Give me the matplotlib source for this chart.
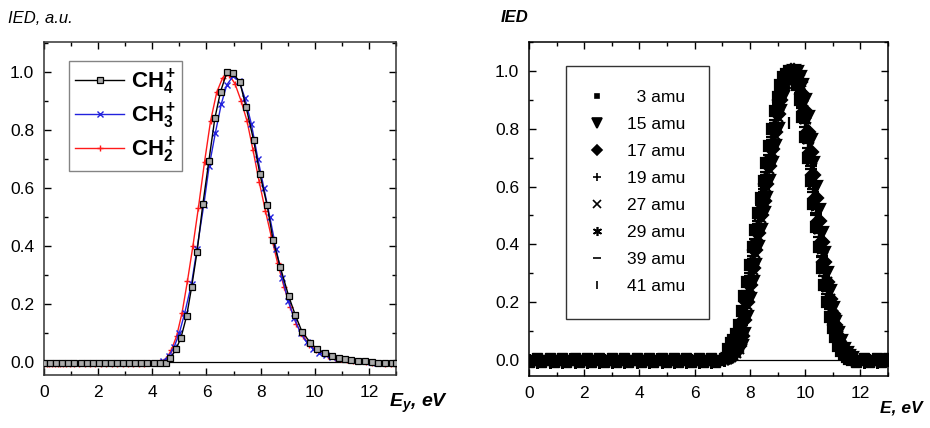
import matplotlib.pyplot as plt
from matplotlib.ticker import MultipleLocator

plt.rcParams['font.family'] = ['Liberation Sans', 'DejaVu Sans']
plt.rcParams['mathtext.fontset'] = 'custom'
plt.rcParams['mathtext.rm'] = 'Liberation Sans'
plt.rcParams['mathtext.it'] = 'Liberation Sans:italic'
plt.rcParams['mathtext.bf'] = 'Liberation Sans:bold'
plt.rcParams['mathtext.bfit'] = 'Liberation Sans:bold:italic'

# ---- left panel: CH4+, CH3+, CH2+ ----
ch4_e = [0.0, 0.22, 0.45, 0.67, 0.9, 1.12, 1.35, 1.57, 1.8, 2.02, 2.25, 2.47, 2.7, 2.92, 3.15, 3.37,
         3.6, 3.82, 4.05, 4.27, 4.5, 4.67, 4.88, 5.06, 5.27, 5.45, 5.65, 5.87, 6.09, 6.31, 6.52, 6.76,
         6.98, 7.23, 7.46, 7.74, 7.97, 8.24, 8.46, 8.73, 9.04, 9.28, 9.53, 9.84, 10.08, 10.39, 10.62,
         10.88, 11.1, 11.35, 11.6, 11.85, 12.1, 12.35, 12.6, 12.85, 13.0]
ch4_i = [-0.005, -0.005, -0.005, -0.005, -0.005, -0.005, -0.005, -0.005, -0.005, -0.005, -0.005, -0.005,
         -0.005, -0.005, -0.005, -0.005, -0.005, -0.005, -0.005, -0.004, -0.002, 0.012, 0.045, 0.084,
         0.159, 0.257, 0.378, 0.546, 0.694, 0.84, 0.932, 1.0, 0.995, 0.966, 0.88, 0.765, 0.649, 0.541,
         0.42, 0.326, 0.226, 0.162, 0.104, 0.066, 0.044, 0.031, 0.022, 0.015, 0.01, 0.006, 0.004, 0.002,
         0.0, -0.002, -0.003, -0.003, -0.003]

ch3_e = [0.0, 0.2, 0.4, 0.6, 0.8, 1.0, 1.2, 1.4, 1.6, 1.8, 2.0, 2.2, 2.4, 2.6, 2.8, 3.0, 3.2, 3.4, 3.6,
         3.8, 4.0, 4.2, 4.4, 4.6, 4.8, 5.0, 5.2, 5.45, 5.65, 5.9, 6.1, 6.33, 6.55, 6.75, 6.98, 7.2, 7.42,
         7.66, 7.9, 8.12, 8.34, 8.57, 8.8, 9.02, 9.24, 9.48, 9.7, 9.94, 10.16, 10.4, 10.62, 10.86, 11.1,
         11.34, 11.58, 11.82, 12.06, 12.3, 12.54, 12.78, 13.0]
ch3_i = [-0.005, -0.005, -0.005, -0.005, -0.005, -0.005, -0.005, -0.005, -0.005, -0.005, -0.005, -0.005,
         -0.005, -0.005, -0.005, -0.005, -0.005, -0.005, -0.005, -0.005, -0.004, -0.002, 0.004, 0.02,
         0.05, 0.1, 0.17, 0.27, 0.39, 0.54, 0.675, 0.79, 0.89, 0.955, 0.985, 0.97, 0.91, 0.82, 0.7, 0.6,
         0.5, 0.39, 0.29, 0.21, 0.15, 0.1, 0.068, 0.045, 0.032, 0.024, 0.018, 0.013, 0.009, 0.006, 0.004,
         0.002, 0.0, -0.002, -0.003, -0.003, -0.003]

ch2_e = [0.0, 0.1, 0.2, 0.3, 0.4, 0.5, 0.6, 0.7, 0.8, 0.95, 1.1, 1.3, 1.5, 1.7, 1.9, 2.1, 2.3, 2.5,
         2.7, 2.9, 3.1, 3.3, 3.5, 3.7, 3.9, 4.1, 4.3, 4.5, 4.7, 4.9, 5.1, 5.3, 5.5, 5.7, 5.93, 6.15,
         6.38, 6.6, 6.83, 7.05, 7.28, 7.5, 7.72, 7.95, 8.18, 8.4, 8.63, 8.86, 9.1, 9.32, 9.56, 9.8,
         10.03, 10.26, 10.5, 10.73, 10.96, 11.2, 11.43, 11.66, 11.9, 12.13, 12.36, 12.6, 12.83, 13.0]
ch2_i = [-0.007, -0.007, -0.007, -0.007, -0.007, -0.007, -0.007, -0.007, -0.007, -0.007, -0.007, -0.007,
         -0.007, -0.007, -0.007, -0.007, -0.007, -0.007, -0.007, -0.007, -0.007, -0.007, -0.007, -0.006,
         -0.005, -0.003, 0.0, 0.01, 0.04, 0.09, 0.17, 0.28, 0.4, 0.53, 0.69, 0.83, 0.93, 0.98, 0.99, 0.96,
         0.9, 0.83, 0.73, 0.62, 0.52, 0.43, 0.34, 0.26, 0.19, 0.13, 0.09, 0.06, 0.042, 0.03, 0.021, 0.015,
         0.01, 0.007, 0.004, 0.002, 0.0, -0.003, -0.005, -0.006, -0.006, -0.006]

# ---- right panel: masses ----
e_base = [0.0, 0.15, 0.3, 0.45, 0.6, 0.75, 0.9, 1.05, 1.2, 1.35, 1.5, 1.65, 1.8, 1.95, 2.1, 2.25, 2.4,
          2.55, 2.7, 2.85, 3.0, 3.15, 3.3, 3.45, 3.6, 3.75, 3.9, 4.05, 4.2, 4.35, 4.5, 4.65, 4.8, 4.95,
          5.1, 5.25, 5.4, 5.55, 5.7, 5.85, 6.0, 6.15, 6.3, 6.45, 6.6, 6.75, 6.9, 7.05,
          11.85, 12.0, 12.15, 12.3, 12.45, 12.6, 12.75, 12.9, 13.0]
i_base_a = [0.0, 0.005, -0.005, 0.0, 0.005, -0.005, 0.0, 0.005, -0.005, 0.0, 0.005, -0.005, 0.0, 0.005,
            -0.005, 0.0, 0.005, -0.005, 0.0, 0.005, -0.005, 0.0, 0.005, -0.005, 0.0, 0.005, -0.005, 0.0,
            0.005, -0.005, 0.0, 0.005, -0.005, 0.0, 0.005, -0.005, 0.0, 0.005, -0.005, 0.0, 0.005, -0.005,
            0.0, 0.005, -0.005, 0.0, 0.005, 0.0, 0.0, 0.005, -0.005, 0.0, 0.005, -0.005, 0.0, 0.005, 0.0]
i_base_b = [-0.006, 0.002, 0.006, -0.006, 0.002, 0.006, -0.006, 0.002, 0.006, -0.006, 0.002, 0.006,
            -0.006, 0.002, 0.006, -0.006, 0.002, 0.006, -0.006, 0.002, 0.006, -0.006, 0.002, 0.006,
            -0.006, 0.002, 0.006, -0.006, 0.002, 0.006, -0.006, 0.002, 0.006, -0.006, 0.002, 0.006,
            -0.006, 0.002, 0.006, -0.006, 0.002, 0.006, -0.006, 0.002, 0.006, -0.006, 0.002, 0.006,
            -0.006, 0.002, 0.006, -0.006, 0.002, 0.006, -0.006, 0.002, 0.006]

e_peak = [7.2, 7.3, 7.4, 7.5, 7.6, 7.7, 7.8, 7.9, 8.0, 8.1, 8.2, 8.3, 8.4, 8.5, 8.6, 8.7, 8.8, 8.9,
          9.0, 9.1, 9.2, 9.3, 9.4, 9.5, 9.6, 9.7, 9.8, 9.9, 10.0, 10.1, 10.2, 10.3, 10.4, 10.5, 10.6,
          10.7, 10.8, 10.9, 11.0, 11.1, 11.2, 11.3, 11.4, 11.5, 11.6, 11.7]

amu3 = [0.04, 0.06, 0.07, 0.09, 0.12, 0.17, 0.22, 0.27, 0.33, 0.39, 0.45, 0.51, 0.56, 0.62, 0.68, 0.74,
        0.80, 0.86, 0.91, 0.95, 0.98, 0.99, 1.0, 1.0, 0.98, 0.95, 0.90, 0.84, 0.77, 0.70, 0.62, 0.54,
        0.46, 0.39, 0.32, 0.26, 0.20, 0.15, 0.11, 0.08, 0.05, 0.03, 0.02, 0.01, 0.005, 0.0]
amu15 = [0.005, 0.008, 0.012, 0.02, 0.03, 0.05, 0.09, 0.15, 0.21, 0.27, 0.33, 0.39, 0.45, 0.51, 0.56,
         0.62, 0.68, 0.74, 0.80, 0.86, 0.91, 0.95, 0.98, 0.99, 1.0, 0.995, 0.98, 0.95, 0.90, 0.84, 0.76,
         0.68, 0.60, 0.52, 0.44, 0.37, 0.30, 0.24, 0.18, 0.13, 0.095, 0.065, 0.04, 0.025, 0.015, 0.008]
amu17 = [0.01, 0.015, 0.02, 0.03, 0.05, 0.085, 0.14, 0.2, 0.26, 0.32, 0.38, 0.44, 0.5, 0.55, 0.61,
         0.67, 0.73, 0.79, 0.85, 0.9, 0.94, 0.975, 0.99, 1.0, 1.0, 0.985, 0.96, 0.92, 0.86, 0.79, 0.72,
         0.64, 0.56, 0.48, 0.41, 0.34, 0.27, 0.21, 0.16, 0.12, 0.085, 0.055, 0.035, 0.02, 0.01, 0.005]
amu19 = [0.012, 0.02, 0.025, 0.04, 0.07, 0.12, 0.18, 0.24, 0.30, 0.36, 0.42, 0.48, 0.535, 0.59, 0.65,
         0.71, 0.77, 0.83, 0.885, 0.93, 0.965, 0.985, 0.995, 1.0, 0.99, 0.965, 0.925, 0.87, 0.805, 0.735,
         0.66, 0.58, 0.50, 0.425, 0.355, 0.29, 0.23, 0.175, 0.13, 0.095, 0.065, 0.04, 0.025, 0.015, 0.008,
         0.003]
amu27 = [0.008, 0.012, 0.018, 0.025, 0.04, 0.07, 0.12, 0.19, 0.25, 0.31, 0.37, 0.43, 0.49, 0.545, 0.6,
         0.66, 0.72, 0.78, 0.84, 0.895, 0.94, 0.97, 0.99, 1.0, 1.0, 0.985, 0.955, 0.91, 0.85, 0.78,
         0.71, 0.63, 0.55, 0.47, 0.40, 0.33, 0.27, 0.21, 0.155, 0.115, 0.082, 0.052, 0.032, 0.02, 0.01,
         0.005]
amu29 = [0.015, 0.02, 0.03, 0.045, 0.07, 0.1, 0.16, 0.22, 0.28, 0.34, 0.40, 0.46, 0.52, 0.57, 0.63,
         0.69, 0.75, 0.81, 0.87, 0.92, 0.955, 0.985, 0.995, 1.0, 0.995, 0.975, 0.94, 0.89, 0.83, 0.76,
         0.69, 0.61, 0.53, 0.45, 0.38, 0.31, 0.25, 0.19, 0.14, 0.1, 0.07, 0.045, 0.028, 0.018, 0.01, 0.005]
amu39 = [0.02, 0.04, 0.05, 0.06, 0.08, 0.11, 0.16, 0.23, 0.29, 0.35, 0.41, 0.47, 0.52, 0.58, 0.64,
         0.70, 0.76, 0.82, 0.875, 0.92, 0.96, 0.98, 0.99, 1.0, 0.99, 0.97, 0.935, 0.88, 0.82, 0.75,
         0.67, 0.59, 0.51, 0.44, 0.36, 0.30, 0.24, 0.18, 0.14, 0.1, 0.07, 0.045, 0.03, 0.018, 0.01, 0.004]
amu41 = [0.03, 0.05, 0.06, 0.08, 0.1, 0.13, 0.18, 0.25, 0.31, 0.37, 0.5, 0.48, 0.6, 0.56, 0.62,
         0.68, 0.74, 0.80, 0.86, 0.9, 0.94, 0.97, 0.82, 0.99, 0.98, 0.96, 0.93, 0.87, 0.81, 0.74,
         0.66, 0.58, 0.50, 0.43, 0.36, 0.29, 0.23, 0.18, 0.13, 0.095, 0.065, 0.042, 0.026, 0.016, 0.008,
         0.003]

mass_labels = ['\u20073 amu', '15 amu', '17 amu', '19 amu', '27 amu', '29 amu', '39 amu', '41 amu']
mass_series = [amu3, amu15, amu17, amu19, amu27, amu29, amu39, amu41]
mass_markers = ['s', 'v', 'D', '+', 'x', (6, 2, 0), '_', '|']
mass_sizes = [7, 9, 7.5, 8.5, 7.5, 9, 8.5, 8.5]
legend_sizes = [3.5, 7, 5.5, 6, 5.5, 6.5, 6, 6]


fig = plt.figure(figsize=(9.3, 4.28), dpi=100)
ax1 = fig.add_axes([0.0473, 0.1238, 0.3785, 0.778])
ax2 = fig.add_axes([0.5688, 0.1215, 0.386, 0.7804])

ax1.axhline(0, color='black', lw=0.9, zorder=1)
ax1.plot(ch2_e, ch2_i, color='#ff1a1a', lw=1.0, marker='+', ms=5, mew=1.0, label=r'$\mathbf{CH_2^+}$', zorder=2)
ax1.plot(ch3_e, ch3_i, color='#2222dd', lw=1.0, marker='x', ms=4, mew=1.0, label=r'$\mathbf{CH_3^+}$', zorder=3)
ax1.plot(ch4_e, ch4_i, color='black', lw=1.0, marker='s', ms=5, mfc='#aaaaaa', mec='black', mew=0.9,
         label=r'$\mathbf{CH_4^+}$', zorder=4)
h, l = ax1.get_legend_handles_labels()
leg1 = ax1.legend(h[::-1], l[::-1], loc='upper left', bbox_to_anchor=(0.071, 0.943), borderaxespad=0,
                  fontsize=16, handlelength=2.2, handletextpad=0.3, labelspacing=0.22, borderpad=0.28,
                  fancybox=False, frameon=True)
leg1.get_frame().set_edgecolor('#666666')
leg1.get_frame().set_linewidth(1.0)

ax2.axhline(0, color='black', lw=0.9, zorder=1)
for ys, mk, sz, lab in zip(mass_series, mass_markers, mass_sizes, mass_labels):
    ax2.plot(e_peak, ys, ls='none', marker=mk, ms=sz, color='black', mew=1.6, label=lab)
ax2.plot(e_base, i_base_a, ls='none', marker=(6, 2, 0), ms=9, color='black', mew=2)
ax2.plot(e_base, i_base_b, ls='none', marker='s', ms=6.5, color='black')
leg2 = ax2.legend(loc='upper left', bbox_to_anchor=(0.103, 0.928), borderaxespad=0, fontsize=12.5,
                  handlelength=0.8, handletextpad=1.3, labelspacing=0.68, borderpad=1.4,
                  fancybox=False, frameon=True)
for hd, sz in zip(leg2.legend_handles, legend_sizes):
    hd.set_markersize(sz)
    hd.set_markeredgewidth(1.2)
leg2.get_frame().set_edgecolor('black')
leg2.get_frame().set_linewidth(1.0)

for ax in (ax1, ax2):
    ax.set_xlim(0, 13)
    ax.xaxis.set_major_locator(MultipleLocator(2))
    ax.xaxis.set_minor_locator(MultipleLocator(1))
    ax.yaxis.set_major_locator(MultipleLocator(0.2))
    ax.yaxis.set_minor_locator(MultipleLocator(0.1))
    ax.tick_params(which='both', direction='in', top=True, right=True, labelsize=12.5)
    ax.tick_params(which='major', length=5, width=1.0)
    ax.tick_params(which='minor', length=3, width=1.0)
    ax.tick_params(axis='x', pad=7)
    ax.tick_params(axis='y', pad=7)
    ax.yaxis.set_major_formatter(plt.FormatStrFormatter('%.1f'))
    for s in ax.spines.values():
        s.set_linewidth(1.1)

ax1.set_ylim(-0.045, 1.103)
ax2.set_ylim(-0.055, 1.10)
for s in ax1.spines.values():
    s.set_color('#333333')

fig.text(0.009, 0.956, 'IED, a.u.', fontsize=12, style='italic', ha='left', va='center')
fig.text(0.538, 0.958, 'IED', fontsize=12, style='italic', weight='bold', ha='left', va='center')
fig.text(0.418, 0.03, r'$\mathbfit{E_y}$, eV', fontsize=14, style='italic', weight='bold', ha='left', va='bottom')
fig.text(0.946, 0.03, 'E, eV', fontsize=12.5, style='italic', weight='bold', ha='left', va='bottom')

fig.savefig('out.png', dpi=100)
